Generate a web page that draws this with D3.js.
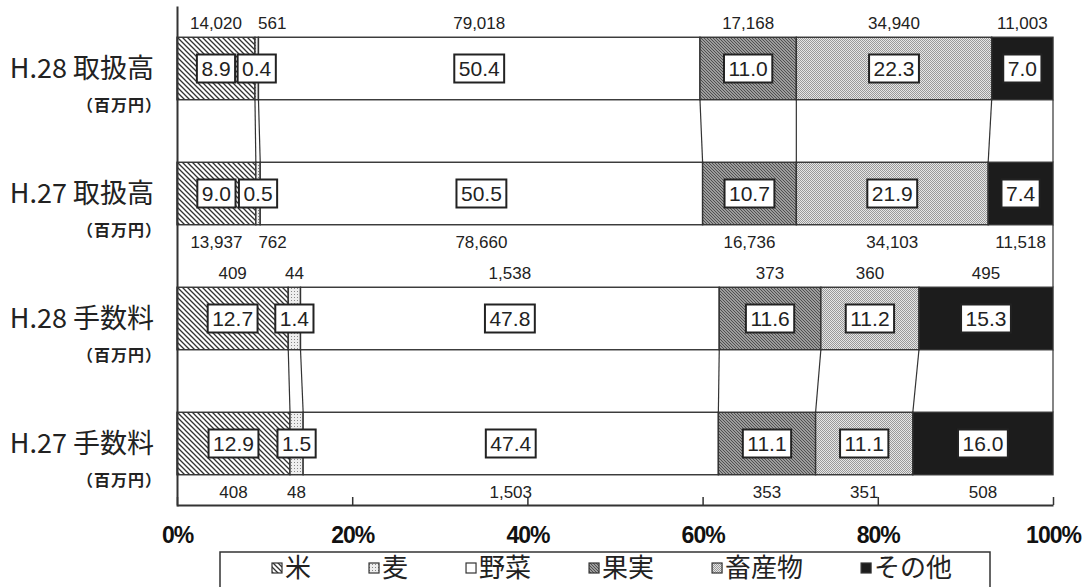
<!DOCTYPE html>
<html>
<head>
<meta charset="utf-8">
<script src="https://cdn.jsdelivr.net/npm/d3@7"></script>
<style>
  body { margin: 0; background: #fff; }
  svg { display: block; }
  .num { font-family: Arial, "Liberation Sans", sans-serif; fill: #222; }
  .jp { font-family: "Noto Sans CJK JP", sans-serif; fill: #222; }
</style>
</head>
<body>
<div id="chart"></div>
<script>
// categories (top to bottom)
var categories = ["H.28 取扱高", "H.27 取扱高", "H.28 手数料", "H.27 手数料"];
var unitLabel = "（百万円）";
var seriesNames = ["米", "麦", "野菜", "果実", "畜産物", "その他"];

// share (%) per category
var shareH28Handling = [8.9, 0.4, 50.4, 11.0, 22.3, 7.0];
var shareH27Handling = [9.0, 0.5, 50.5, 10.7, 21.9, 7.4];
var shareH28Fee      = [12.7, 1.4, 47.8, 11.6, 11.2, 15.3];
var shareH27Fee      = [12.9, 1.5, 47.4, 11.1, 11.1, 16.0];

// amounts (百万円)
var amountH28Handling = [14020, 561, 79018, 17168, 34940, 11003];
var amountH27Handling = [13937, 762, 78660, 16736, 34103, 11518];
var amountH28Fee      = [409, 44, 1538, 373, 360, 495];
var amountH27Fee      = [408, 48, 1503, 353, 351, 508];

var tickValues = [0, 20, 40, 60, 80, 100];

var shares = [shareH28Handling, shareH27Handling, shareH28Fee, shareH27Fee];
var amounts = [amountH28Handling, amountH27Handling, amountH28Fee, amountH27Fee];

var width = 1085, height = 587;

var svg = d3.select("#chart").append("svg")
    .attr("width", width)
    .attr("height", height);

// fill patterns
var defs = svg.append("defs");

var pRice = defs.append("pattern").attr("id", "p-rice")
    .attr("width", 5).attr("height", 5).attr("patternUnits", "userSpaceOnUse");
pRice.append("rect").attr("width", 5).attr("height", 5).attr("fill", "#fff");
pRice.append("path").attr("d", "M0,0L5,5M-1,4L1,6M4,-1L6,1")
    .attr("stroke", "#333").attr("stroke-width", 1.3);

var pWheat = defs.append("pattern").attr("id", "p-wheat")
    .attr("width", 3).attr("height", 3).attr("patternUnits", "userSpaceOnUse");
pWheat.append("rect").attr("width", 3).attr("height", 3).attr("fill", "#eee");
pWheat.append("rect").attr("width", 1).attr("height", 1).attr("fill", "#888");

var pFruit = defs.append("pattern").attr("id", "p-fruit")
    .attr("width", 3).attr("height", 3).attr("patternUnits", "userSpaceOnUse");
pFruit.append("rect").attr("width", 3).attr("height", 3).attr("fill", "#9c9c9c");
pFruit.append("path").attr("d", "M0,0h1v1h-1zM1,1h1v1h-1zM2,2h1v1h-1z").attr("fill", "#505050");

var pStock = defs.append("pattern").attr("id", "p-stock")
    .attr("width", 2).attr("height", 2).attr("patternUnits", "userSpaceOnUse");
pStock.append("rect").attr("width", 2).attr("height", 2).attr("fill", "#e6e6e6");
pStock.append("path").attr("d", "M0,0h1v1h-1zM1,1h1v1h-1z").attr("fill", "#999");

var fills = ["url(#p-rice)", "url(#p-wheat)", "#fff", "url(#p-fruit)", "url(#p-stock)", "#1c1c1c"];

var x = d3.scaleLinear().domain([0, 100]).range([177, 1053]);
var y = d3.scaleBand().domain(categories).range([6, 506])
    .paddingInner(0.5).paddingOuter(0.25);

// stacked rows
var rows = categories.map(function(c, i) {
  var cum = 0;
  return shares[i].map(function(v, j) {
    var seg = { cat: c, idx: i, s: j, v: v, amount: amounts[i][j], x0: cum, x1: cum + v };
    cum += v;
    return seg;
  });
});

// series lines between pairs of bars
var lines = svg.append("g");
[[0, 1], [2, 3]].forEach(function(p) {
  var a = rows[p[0]], b = rows[p[1]];
  a.forEach(function(seg, j) {
    lines.append("line")
      .attr("x1", x(seg.x1)).attr("y1", y(categories[p[0]]) + y.bandwidth())
      .attr("x2", x(b[j].x1)).attr("y2", y(categories[p[1]]))
      .attr("stroke", "#333").attr("stroke-width", 1.2);
  });
});
// right edge between groups
lines.append("line")
  .attr("x1", x(100)).attr("x2", x(100))
  .attr("y1", y(categories[1]) + y.bandwidth()).attr("y2", y(categories[2]))
  .attr("stroke", "#333").attr("stroke-width", 1.2);

// bars
var bars = svg.append("g");
rows.forEach(function(row) {
  bars.selectAll(null).data(row).enter().append("rect")
    .attr("x", function(d) { return x(d.x0); })
    .attr("width", function(d) { return x(d.x1) - x(d.x0); })
    .attr("y", function(d) { return y(d.cat); })
    .attr("height", y.bandwidth())
    .attr("fill", function(d) { return fills[d.s]; })
    .attr("stroke", "#333").attr("stroke-width", 1.4);
});

// axes
var xAxis = svg.append("g").attr("transform", "translate(0,505)")
  .call(d3.axisBottom(x).tickValues(tickValues).tickFormat(function(d) { return d + "%"; })
        .tickSizeInner(-8).tickSizeOuter(0).tickPadding(22));
xAxis.select(".domain").attr("stroke", "#333").attr("stroke-width", 2);
xAxis.selectAll(".tick line").attr("stroke", "#333").attr("stroke-width", 1.5);
xAxis.selectAll(".tick text")
  .attr("fill", "#111")
  .style("font-family", "'Liberation Sans Narrow', 'Arial Narrow', Arial, sans-serif")
  .style("font-weight", "bold").style("font-size", "23px")
  .style("letter-spacing", "-1px");

var yAxis = svg.append("g").attr("transform", "translate(177,0)")
  .call(d3.axisLeft(y).tickSize(0).tickFormat(""));
yAxis.select(".domain").attr("stroke", "#333").attr("stroke-width", 2);

// category labels
var catG = svg.append("g");
categories.forEach(function(c) {
  var cy = y(c) + y.bandwidth() / 2;
  catG.append("text").attr("class", "jp")
    .attr("x", 154).attr("y", cy).attr("dy", "0.36em")
    .attr("text-anchor", "end").style("font-size", "27px")
    .text(c);
  catG.append("text").attr("class", "jp")
    .attr("x", 162).attr("y", cy + 37).attr("dy", "0.36em")
    .attr("text-anchor", "end").style("font-size", "16px").style("font-weight", "bold")
    .style("letter-spacing", "1px")
    .text(unitLabel);
});

// percentage boxes
var pctG = svg.append("g");
rows.forEach(function(row) {
  row.forEach(function(d) {
    var cx = (x(d.x0) + x(d.x1)) / 2;
    var cy = y(d.cat) + y.bandwidth() / 2;
    var g = pctG.append("g");
    var t = g.append("text").attr("class", "num")
      .attr("x", cx).attr("y", cy).attr("dy", "0.36em")
      .attr("text-anchor", "middle").style("font-size", "21px")
      .text(d3.format(".1f")(d.v));
    var w = t.node().getComputedTextLength() + 9;
    g.insert("rect", "text")
      .attr("x", cx - w / 2).attr("y", cy - 14)
      .attr("width", w).attr("height", 28)
      .attr("fill", "#fff").attr("stroke", "#222").attr("stroke-width", 2);
  });
});

// amount labels, above for H.28 rows, below for H.27 rows
var amtG = svg.append("g");
var fmt = d3.format(",");
rows.forEach(function(row, i) {
  var above = i % 2 === 0;
  var ty = above ? y(categories[i]) - 8 : y(categories[i]) + y.bandwidth() + 23;
  var prevRight = -Infinity;
  row.forEach(function(d) {
    var t = amtG.append("text").attr("class", "num")
      .attr("y", ty).style("font-size", "17px").attr("text-anchor", "middle")
      .text(fmt(d.amount));
    var w = t.node().getComputedTextLength();
    var cx = Math.max((x(d.x0) + x(d.x1)) / 2, prevRight + 16 + w / 2);
    t.attr("x", cx);
    prevRight = cx + w / 2;
  });
});

// legend
var leg = svg.append("g");
leg.append("rect").attr("x", 220).attr("y", 552).attr("width", 770).attr("height", 44)
  .attr("fill", "#fff").attr("stroke", "#333").attr("stroke-width", 1.5);
var lx = 272;
seriesNames.forEach(function(name, j) {
  leg.append("rect").attr("x", lx).attr("y", 563).attr("width", 10).attr("height", 10)
    .attr("fill", fills[j]).attr("stroke", "#333").attr("stroke-width", 1.2);
  var t = leg.append("text").attr("class", "jp")
    .attr("x", lx + 13).attr("y", 568).attr("dy", "0.36em")
    .style("font-size", "26px").text(name);
  lx += 13 + t.node().getComputedTextLength() + 58;
});
</script>
</body>
</html>
